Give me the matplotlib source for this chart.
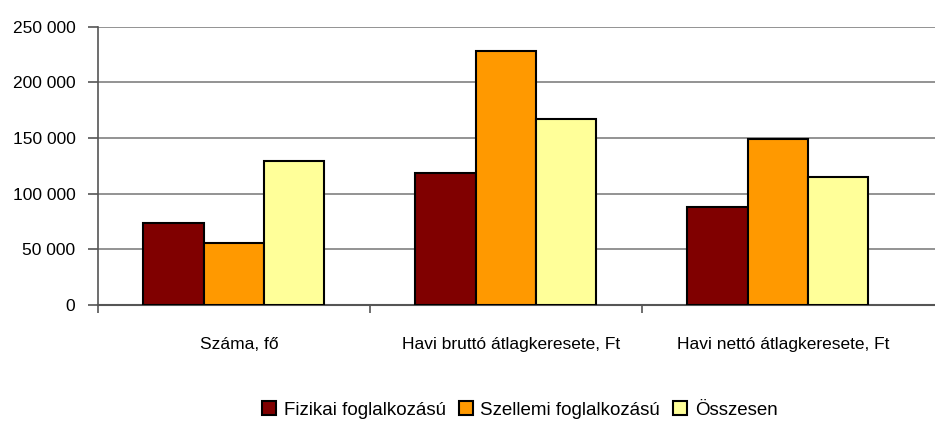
import matplotlib
matplotlib.use("Agg")
from matplotlib import pyplot as plt
from matplotlib.ticker import FuncFormatter
import numpy as np

plt.rcParams['font.family'] = ['Liberation Sans', 'DejaVu Sans']

# adatok
kategoriak = ['Száma, fő', 'Havi bruttó átlagkeresete, Ft', 'Havi nettó átlagkeresete, Ft']
fizikai = [73700, 118200, 87600]
szellemi = [55200, 228100, 149000]
osszesen = [129500, 167000, 114800]
sorozat_nevek = ['Fizikai foglalkozású', 'Szellemi foglalkozású', 'Összesen']
szinek = ['#800000', '#FF9900', '#FFFF99']

fig = plt.figure(figsize=(9.35, 4.21), dpi=100)
ax = fig.add_axes([0.1045, 0.2762, 0.8955, 0.6604])

x = np.arange(len(kategoriak))
w = 0.222
for i, (vals, nev, szin) in enumerate(zip([fizikai, szellemi, osszesen], sorozat_nevek, szinek)):
    ax.bar(x + (i - 1) * w, vals, width=w, color=szin, edgecolor='black',
           linewidth=1.5, label=nev, zorder=3)

ax.set_ylim(0, 250000)
ax.set_xlim(-0.5, 2.578)
ax.set_yticks(np.arange(0, 250001, 50000))
ax.yaxis.set_major_formatter(FuncFormatter(lambda v, p: f'{int(v):,}'.replace(',', ' ')))
ax.yaxis.grid(True, color='#808080', linewidth=1.2, zorder=0)

# kategória határok - kis tickek
ax.set_xticks([-0.5, 0.5, 1.5])
ax.set_xticklabels([])
ax.set_xticks(x + 0.02, minor=True)
ax.set_xticklabels(kategoriak, minor=True, fontsize=12.5)
ax.tick_params(axis='x', which='minor', length=0, pad=23)
ax.tick_params(axis='x', which='major', length=6, width=1.2, color='#555555')
ax.tick_params(axis='y', length=7, width=1.2, color='#555555', labelsize=12.5, pad=9)

for s in ['top', 'right']:
    ax.spines[s].set_visible(False)
ax.spines['left'].set_color('#555555')
ax.spines['bottom'].set_color('#555555')
ax.spines['left'].set_linewidth(1.2)
ax.spines['bottom'].set_linewidth(1.5)

fig.legend(loc='lower center', bbox_to_anchor=(0.556, -0.035), ncol=3, frameon=False,
           fontsize=13.5, handlelength=0.75, handleheight=0.75, handletextpad=0.4,
           columnspacing=0.7)

fig.savefig('out.png', dpi=100)
